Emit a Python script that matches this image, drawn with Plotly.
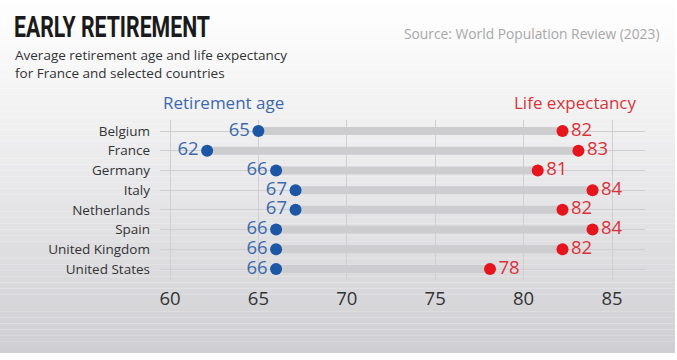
import plotly.graph_objects as go

countries = ["Belgium", "France", "Germany", "Italy", "Netherlands", "Spain", "United Kingdom", "United States"]
retirement_age = [65.0, 62.1, 66.0, 67.1, 67.1, 66.0, 66.0, 66.0]
life_expectancy = [82.2, 83.1, 80.8, 83.9, 82.2, 83.9, 82.2, 78.1]
retirement_labels = ["65", "62", "66", "67", "67", "66", "66", "66"]
life_labels = ["82", "83", "81", "84", "82", "84", "82", "78"]
x_ticks = [60, 65, 70, 75, 80, 85]

FONT = "Open Sans"
BLUE = "#1d56a5"
BLUE_TXT = "#3d69ab"
RED = "#e5141d"
RED_TXT = "#d9333a"
GREY_BAR = "#cdcdd0"

W, H = 677, 360
L, R, T, B = 160, 32, 120, 80
PW, PH = W - L - R, H - T - B

rows = list(range(len(countries)))

fig = go.Figure()

bx, by = [], []
for i in rows:
    bx += [retirement_age[i], life_expectancy[i], None]
    by += [i, i, None]
fig.add_trace(go.Scatter(x=bx, y=by, mode="lines",
                         line=dict(color=GREY_BAR, width=8),
                         hoverinfo="skip", showlegend=False))

fig.add_trace(go.Scatter(x=retirement_age, y=rows, mode="markers+text",
                         marker=dict(color=BLUE, size=12),
                         text=retirement_labels, textposition="middle left",
                         textfont=dict(family=FONT, size=18.5, color=BLUE_TXT),
                         showlegend=False))
fig.add_trace(go.Scatter(x=life_expectancy, y=rows, mode="markers+text",
                         marker=dict(color=RED, size=12),
                         text=life_labels, textposition="middle right",
                         textfont=dict(family=FONT, size=18.5, color=RED_TXT),
                         showlegend=False))

def py(p):
    return (H - B - p) / PH

def px(p):
    return (p - L) / PW

shapes = []
n = 60
top_c = (254, 254, 254)
bot_c = (207, 207, 211)
ymax = 353
for k in range(n):
    y0 = ymax * k / n
    y1 = ymax * (k + 1) / n
    t = ((k + 0.5) / n) ** 1.15
    c = tuple(int(round(top_c[j] + (bot_c[j] - top_c[j]) * t)) for j in range(3))
    shapes.append(dict(type="rect", xref="paper", yref="paper",
                       x0=px(0), x1=px(675), y0=py(y1), y1=py(y0),
                       fillcolor="rgb(%d,%d,%d)" % c, line=dict(width=0),
                       layer="below"))

def ann(text, x, y, xanchor, size, color, family=FONT, align="left", weight="normal"):
    return dict(text=text, x=px(x), y=py(y), xref="paper", yref="paper",
                xanchor=xanchor, yanchor="middle", align=align, showarrow=False,
                font=dict(family=family, size=size, color=color, weight=weight))

annotations = [
    ann("EARLY RETIREMENT", 14, 26, "left", 30, "#1a1a1a", family="Roboto", weight=700),
    ann("Average retirement age and life expectancy<br>for France and selected countries",
        13, 64, "left", 13.5, "#333333"),
    ann("Source: World Population Review (2023)", 661, 34, "right", 13.8, "#a8a8a8"),
    ann("Retirement age", 161, 102, "left", 17, BLUE_TXT),
    ann("Life expectancy", 638, 102, "right", 17, RED_TXT),
]

px_per_unit = (612 - 170) / 25.0
x0v = 60 - (170 - L) / px_per_unit
x1v = 85 + (L + PW - 612) / px_per_unit
row_px = (269 - 131) / 7.0
ylo = -(131 - T) / row_px
yhi = 7 + (T + PH - 269) / row_px

fig.update_layout(
    width=W, height=H,
    margin=dict(l=L, r=R, t=T, b=B, pad=0),
    paper_bgcolor="white", plot_bgcolor="rgba(0,0,0,0)",
    shapes=shapes, annotations=annotations,
    xaxis=dict(range=[x0v, x1v], tickvals=x_ticks, showgrid=True,
               gridcolor="#cfcfd2", gridwidth=1, zeroline=False, showline=False,
               ticks="", tickfont=dict(family=FONT, size=18.5, color="#333333"),
               ticklabelstandoff=5, fixedrange=True),
    yaxis=dict(range=[yhi, ylo], tickvals=rows, ticktext=countries,
               showgrid=True, gridcolor="#cfcfd2", gridwidth=1, zeroline=False,
               showline=False, ticks="", ticklabelstandoff=9,
               tickfont=dict(family=FONT, size=13.5, color="#333333"), fixedrange=True),
    showlegend=False,
)

post = """
document.body.style.margin='0';document.body.style.overflow='hidden';
document.querySelectorAll('text.annotation-text').forEach(function(t){
  if (t.textContent === 'EARLY RETIREMENT') {
    t.setAttribute('textLength', '196');
    t.setAttribute('lengthAdjust', 'spacingAndGlyphs');
    var r = t.getBoundingClientRect();
    var dx = 14 - r.left;
    var x0 = parseFloat(t.getAttribute('x') || '0');
    t.setAttribute('x', String(x0 + dx));
  }
});
"""
fig.write_html("out.html", post_script=post, config={"displayModeBar": False})
